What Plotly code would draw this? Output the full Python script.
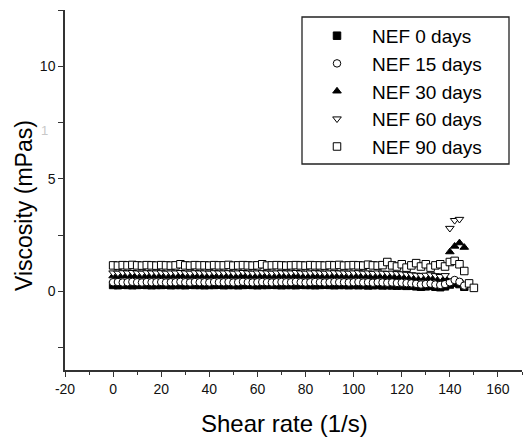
import plotly.graph_objects as go

shear_rate = [0, 2, 4, 6, 8, 10, 12, 14, 16, 18,
              20, 22, 24, 26, 28, 30, 32, 34, 36, 38,
              40, 42, 44, 46, 48, 50, 52, 54, 56, 58,
              60, 62, 64, 66, 68, 70, 72, 74, 76, 78,
              80, 82, 84, 86, 88, 90, 92, 94, 96, 98,
              100, 102, 104, 106, 108, 110, 112, 114, 116, 118,
              120, 122, 124, 126, 128, 130, 132, 134, 136, 138,
              140, 142, 144, 146, 148, 150]

nef_0 = [0.28, 0.27, 0.29, 0.28, 0.27, 0.28, 0.29, 0.28, 0.27, 0.28,
         0.28, 0.29, 0.27, 0.28, 0.28, 0.27, 0.29, 0.28, 0.28, 0.27,
         0.28, 0.28, 0.29, 0.27, 0.28, 0.28, 0.27, 0.28, 0.29, 0.28,
         0.27, 0.28, 0.28, 0.29, 0.28, 0.27, 0.28, 0.28, 0.27, 0.29,
         0.28, 0.28, 0.27, 0.28, 0.29, 0.28, 0.27, 0.28, 0.28, 0.27,
         0.28, 0.27, 0.28, 0.26, 0.27, 0.28, 0.26, 0.27, 0.26, 0.25,
         0.26, 0.24, 0.25, 0.22, 0.20, 0.22, 0.24, 0.20, 0.18, 0.22,
         0.30, 0.38, 0.32, 0.20, None, None]

nef_15 = [0.40, 0.41, 0.39, 0.40, 0.42, 0.40, 0.39, 0.41, 0.40, 0.40,
          0.41, 0.39, 0.40, 0.40, 0.42, 0.40, 0.39, 0.41, 0.40, 0.40,
          0.39, 0.41, 0.40, 0.40, 0.41, 0.39, 0.40, 0.42, 0.40, 0.39,
          0.40, 0.41, 0.40, 0.39, 0.40, 0.41, 0.40, 0.40, 0.42, 0.40,
          0.39, 0.40, 0.41, 0.40, 0.39, 0.40, 0.41, 0.40, 0.40, 0.39,
          0.40, 0.41, 0.39, 0.40, 0.38, 0.40, 0.39, 0.38, 0.39, 0.37,
          0.38, 0.36, 0.35, 0.33, 0.30, 0.32, 0.34, 0.30, 0.28, 0.32,
          0.40, 0.50, 0.42, 0.25, None, None]

nef_30 = [0.68, 0.67, 0.69, 0.68, 0.70, 0.68, 0.67, 0.69, 0.68, 0.68,
          0.69, 0.67, 0.68, 0.68, 0.70, 0.68, 0.67, 0.69, 0.68, 0.68,
          0.67, 0.69, 0.68, 0.68, 0.69, 0.67, 0.68, 0.70, 0.68, 0.67,
          0.68, 0.69, 0.68, 0.67, 0.68, 0.69, 0.68, 0.68, 0.70, 0.68,
          0.67, 0.68, 0.69, 0.68, 0.67, 0.68, 0.69, 0.68, 0.68, 0.67,
          0.68, 0.69, 0.67, 0.68, 0.66, 0.68, 0.67, 0.66, 0.67, 0.65,
          0.66, 0.64, 0.62, 0.60, 0.58, 0.60, 0.62, 0.58, 0.55, 0.60,
          1.75, 2.00, 2.15, 1.95, None, None]

nef_60 = [0.82, 0.81, 0.83, 0.82, 0.84, 0.82, 0.81, 0.83, 0.82, 0.82,
          0.83, 0.81, 0.82, 0.82, 0.84, 0.82, 0.81, 0.83, 0.82, 0.82,
          0.81, 0.83, 0.82, 0.82, 0.83, 0.81, 0.82, 0.84, 0.82, 0.81,
          0.82, 0.83, 0.82, 0.81, 0.82, 0.83, 0.82, 0.82, 0.84, 0.82,
          0.81, 0.82, 0.83, 0.82, 0.81, 0.82, 0.83, 0.82, 0.82, 0.81,
          0.82, 0.83, 0.81, 0.82, 0.80, 0.82, 0.81, 0.80, 0.81, 0.79,
          0.78, 0.76, 0.74, 0.72, 0.70, 0.72, 0.74, 0.70, 0.66, 0.70,
          2.80, 3.15, 3.20, None, None, None]

nef_90 = [1.15, 1.14, 1.16, 1.15, 1.17, 1.15, 1.14, 1.16, 1.15, 1.14,
          1.16, 1.15, 1.14, 1.15, 1.20, 1.15, 1.14, 1.16, 1.15, 1.15,
          1.14, 1.16, 1.15, 1.15, 1.17, 1.14, 1.15, 1.16, 1.15, 1.14,
          1.15, 1.20, 1.14, 1.15, 1.16, 1.15, 1.14, 1.15, 1.16, 1.15,
          1.14, 1.16, 1.15, 1.15, 1.14, 1.16, 1.15, 1.17, 1.14, 1.15,
          1.16, 1.15, 1.14, 1.18, 1.15, 1.14, 1.16, 1.30, 1.15, 1.10,
          1.20, 1.05, 1.15, 1.25, 1.10, 1.20, 1.05, 1.15, 1.20, 1.10,
          1.30, 1.35, 1.20, 0.90, 0.35, 0.15]

x_tickvals = [-20, 0, 20, 40, 60, 80, 100, 120, 140, 160]
x_ticktext = ["-20", "0", "20", "40", "60", "80", "100", "120", "140", "160"]
y_tickvals = [0, 5, 10]
y_ticktext = ["0", "5", "10"]

series = [
    ("NEF 0 days", nef_0, "square", "black"),
    ("NEF 15 days", nef_15, "circle", "white"),
    ("NEF 30 days", nef_30, "triangle-up", "black"),
    ("NEF 60 days", nef_60, "triangle-down", "white"),
    ("NEF 90 days", nef_90, "square", "white"),
]

FONT = "Liberation Sans, Arial, sans-serif"
AX = "#333333"

fig = go.Figure()
for name, vals, sym, fill in series:
    fig.add_trace(go.Scatter(
        x=shear_rate, y=vals, name=name, mode="markers",
        marker=dict(symbol=sym, size=7.5, color=fill,
                    line=dict(color="black", width=1)),
    ))

fig.update_layout(
    width=523, height=443,
    margin=dict(l=65, r=1, t=10, b=73),
    paper_bgcolor="white", plot_bgcolor="white",
    font=dict(family=FONT, color="black"),
    showlegend=True,
    legend=dict(x=0.5186, y=0.981, xanchor="left", yanchor="top",
                bgcolor="rgba(0,0,0,0)", borderwidth=0,
                font=dict(size=19, family=FONT),
                itemwidth=60),
    xaxis=dict(range=[-20, 170], tickmode="array", tickvals=x_tickvals, ticktext=x_ticktext,
               showline=True, linecolor=AX, linewidth=1.5,
               ticks="outside", ticklen=5, tickwidth=1.3, tickcolor=AX,
               minor=dict(dtick=10, tick0=0, ticks="outside", ticklen=3, tickcolor=AX, tickwidth=1.3),
               showgrid=False, zeroline=False,
               tickfont=dict(size=14, family=FONT, color="#111")),
    yaxis=dict(range=[-3.5, 12.5], tickmode="array", tickvals=y_tickvals, ticktext=y_ticktext,
               showline=True, linecolor=AX, linewidth=1.5,
               ticks="outside", ticklen=5, tickwidth=1.3, tickcolor=AX,
               minor=dict(dtick=2.5, tick0=0, ticks="outside", ticklen=5, tickcolor=AX, tickwidth=1.3),
               showgrid=False, zeroline=False,
               tickfont=dict(size=14, family=FONT, color="#111")),
    shapes=[dict(type="rect", xref="paper", yref="paper",
                 x0=(302 - 65) / 457, x1=(509 - 65) / 457,
                 y0=(370 - 164) / 360, y1=(370 - 17) / 360,
                 line=dict(color="#222", width=1.3), fillcolor="rgba(0,0,0,0)")],
    annotations=[
        dict(text="Viscosity (mPas)", xref="paper", yref="paper",
             x=(24 - 65) / 457, y=(370 - 206) / 360, textangle=-90,
             showarrow=False, font=dict(size=23, family=FONT, color="black"),
             xanchor="center", yanchor="middle"),
        dict(text="Shear rate (1/s)", xref="paper", yref="paper",
             x=(284 - 65) / 457, y=(370 - 423) / 360,
             showarrow=False, font=dict(size=24, family=FONT, color="black"),
             xanchor="center", yanchor="middle"),
        dict(text="1", xref="paper", yref="paper",
             x=(44 - 65) / 457, y=(370 - 130) / 360,
             showarrow=False, font=dict(size=13, family=FONT, color="#c8c8c8"),
             xanchor="center", yanchor="middle"),
    ],
)

fig.write_html("out.html", config={"displayModeBar": False},
               post_script="document.body.style.margin='0';document.body.style.overflow='hidden';")
